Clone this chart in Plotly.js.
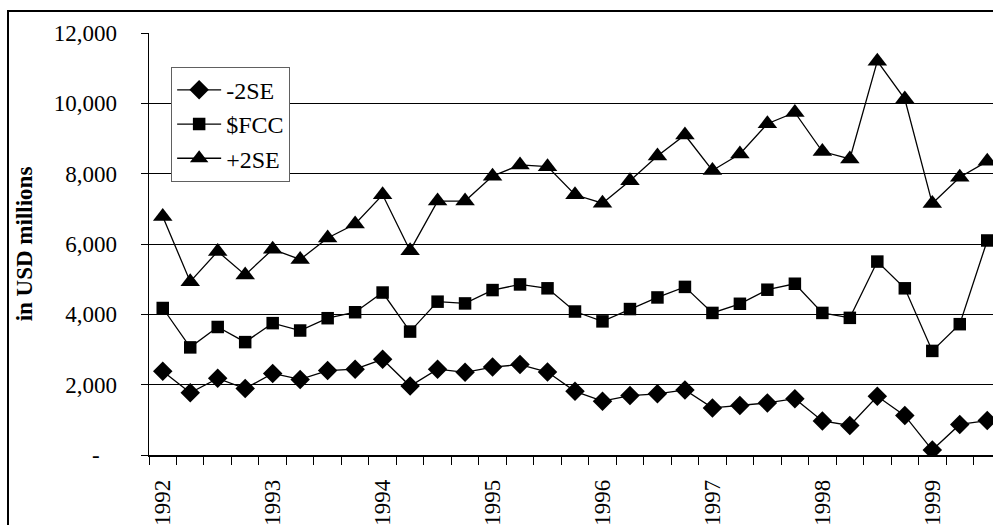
<!DOCTYPE html>
<html>
<head>
<meta charset="utf-8">
<script src="https://cdn.plot.ly/plotly-3.0.1.min.js"></script>
<style>
  html, body { margin: 0; padding: 0; overflow: hidden; background: #fff; width: 993px; height: 525px; }
  #frame { position: absolute; left: 7px; top: 10px; width: 1100px; height: 600px; border-left: 2px solid #000; border-top: 2px solid #000; }
  #chart { position: absolute; left: 0; top: 0; width: 1003px; height: 545px; }
</style>
</head>
<body>
<div id="frame"></div>
<div id="chart"></div>
<script>
// Quarterly periods, 1992 Q1 .. 1999 Q3
const quarters = [
  '1992Q1','1992Q2','1992Q3','1992Q4',
  '1993Q1','1993Q2','1993Q3','1993Q4',
  '1994Q1','1994Q2','1994Q3','1994Q4',
  '1995Q1','1995Q2','1995Q3','1995Q4',
  '1996Q1','1996Q2','1996Q3','1996Q4',
  '1997Q1','1997Q2','1997Q3','1997Q4',
  '1998Q1','1998Q2','1998Q3','1998Q4',
  '1999Q1','1999Q2','1999Q3'
];
const yearLabels = ['1992','1993','1994','1995','1996','1997','1998','1999'];

const minus2SE = [2380, 1770, 2180, 1890, 2320, 2150, 2400,
                  2440, 2720, 1960, 2440, 2350, 2500, 2570, 2360,
                  1810, 1530, 1690, 1740, 1850, 1340, 1410, 1480,
                  1600, 970, 840, 1670, 1120, 140, 870, 980];
const fcc      = [4180, 3060, 3640, 3210, 3750, 3540, 3890,
                  4060, 4620, 3510, 4360, 4310, 4690, 4850, 4740,
                  4080, 3800, 4150, 4480, 4780, 4040, 4300, 4700,
                  4870, 4040, 3900, 5500, 4740, 2960, 3720, 6100];
const plus2SE  = [6780, 4930, 5790, 5120, 5850, 5560, 6170,
                  6570, 7400, 5810, 7220, 7220, 7930, 8250, 8200,
                  7400, 7160, 7800, 8500, 9100, 8090, 8560, 9420,
                  9740, 8630, 8420, 11200, 10120, 7150, 7900, 8350];

const yTickVals = [0, 2000, 4000, 6000, 8000, 10000, 12000];
const yTickText = ['-\u00a0\u00a0\u00a0', '2,000', '4,000', '6,000', '8,000', '10,000', '12,000'];

const idx = quarters.map((q, i) => i);
const yearPos = yearLabels.map(y => quarters.indexOf(y + 'Q1'));

const lineStyle = { color: '#000', width: 1.3 };
const traces = [
  { x: idx, y: minus2SE, name: '-2SE', mode: 'lines+markers', line: lineStyle,
    marker: { symbol: 'diamond', size: 15, color: '#000' }, text: quarters, hoverinfo: 'text+y' },
  { x: idx, y: fcc, name: '$FCC', mode: 'lines+markers', line: lineStyle,
    marker: { symbol: 'square', size: 12.5, color: '#000' }, text: quarters, hoverinfo: 'text+y' },
  { x: idx, y: plus2SE, name: '+2SE', mode: 'lines+markers', line: lineStyle,
    marker: { symbol: 'triangle-up', size: 17, color: '#000' }, text: quarters, hoverinfo: 'text+y' }
];

const font = { family: 'Liberation Serif, Times New Roman, DejaVu Serif, serif', color: '#000' };

const layout = {
  width: 1003, height: 545,
  margin: { l: 149, r: 2, t: 33, b: 90 },
  paper_bgcolor: 'rgba(0,0,0,0)', plot_bgcolor: 'rgba(0,0,0,0)',
  font: Object.assign({ size: 22 }, font),
  showlegend: true,
  legend: {
    x: 0.026, y: 0.92, xanchor: 'left', yanchor: 'top',
    bgcolor: '#fff', bordercolor: '#606060', borderwidth: 1,
    font: Object.assign({ size: 24 }, font),
    tracegroupgap: 0, itemwidth: 44
  },
  xaxis: {
    range: [-0.5, quarters.length - 0.5],
    tickmode: 'array', tickvals: yearPos, ticktext: yearLabels,
    tickangle: -90, ticks: '', ticklabelstandoff: 14,
    tickfont: Object.assign({ size: 23 }, font),
    showline: true, linecolor: '#000', linewidth: 1.5,
    showgrid: false, zeroline: false, fixedrange: true,
    minor: { tickmode: 'linear', tick0: -0.5, dtick: 1, ticks: 'outside', ticklen: 8, tickcolor: '#000', tickwidth: 1, showgrid: false }
  },
  yaxis: {
    range: [0, 12000],
    tickmode: 'array', tickvals: yTickVals, ticktext: yTickText,
    ticks: 'outside', ticklen: 7, tickcolor: '#000', tickwidth: 1,
    ticklabelstandoff: 19,
    tickfont: Object.assign({ size: 23 }, font),
    showline: true, linecolor: '#000', linewidth: 1.5,
    showgrid: true, gridcolor: '#000', gridwidth: 1,
    zeroline: false, fixedrange: true,
    title: { text: '<b>in USD millions</b>', font: Object.assign({ size: 23 }, font), standoff: 14 }
  }
};

Plotly.newPlot('chart', traces, layout, { displayModeBar: false, staticPlot: true });
</script>
</body>
</html>
